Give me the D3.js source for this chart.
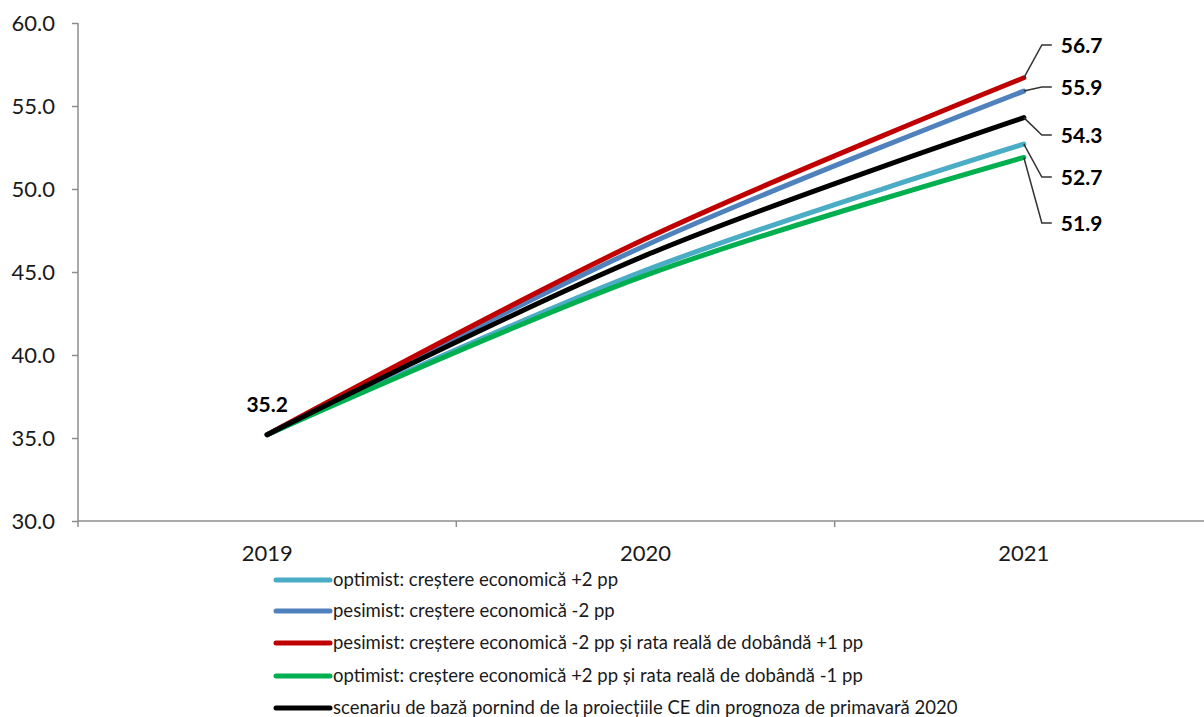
<!DOCTYPE html>
<html>
<head>
<meta charset="utf-8">
<script src="https://cdn.jsdelivr.net/npm/d3@7"></script>
<style>
  html, body { margin: 0; padding: 0; background: #fff; }
  svg { display: block; }
  text { font-family: Lato, "Open Sans", "Noto Sans", sans-serif; }
</style>
</head>
<body>
<svg id="chart" width="1204" height="717"></svg>
<script>
// Years on the category axis
const years = ["2019", "2020", "2021"];

// Scenario names (legend text)
const seriesNames = [
  "optimist: creștere economică +2 pp",
  "pesimist: creștere economică -2 pp",
  "pesimist: creștere economică -2 pp și rata reală de dobândă +1 pp",
  "optimist: creștere economică +2 pp și rata reală de dobândă -1 pp",
  "scenariu de bază pornind de la proiecțiile CE din prognoza de primavară 2020"
];

// Debt ratio per scenario, one value per year
const optimistValues      = [35.2, 45.1, 52.7];
const pesimistValues      = [35.2, 46.6, 55.9];
const pesimistRateValues  = [35.2, 47.0, 56.7];
const optimistRateValues  = [35.2, 44.8, 51.9];
const baseValues          = [35.2, 46.0, 54.3];

const seriesValues = [optimistValues, pesimistValues, pesimistRateValues, optimistRateValues, baseValues];
const seriesColors = ["#4bacc6", "#4f81bd", "#c00000", "#00b050", "#000000"];

// Y axis tick values
const yTicks = [30, 35, 40, 45, 50, 55, 60];

const svg = d3.select("#chart");

const plot = { left: 78, right: 1213, top: 23, bottom: 521 };

const x = d3.scaleBand().domain(years).range([plot.left, plot.right]);
const cx = d => x(d) + x.bandwidth() / 2;
const y = d3.scaleLinear().domain([30, 60]).range([plot.bottom, plot.top]);

const axisColor = "#8c8c8c";

// Y axis
const yAxis = svg.append("g")
  .attr("transform", `translate(${plot.left},0)`)
  .call(d3.axisLeft(y).tickValues(yTicks).tickFormat(d3.format(".1f")).tickSize(6).tickPadding(17));
yAxis.select(".domain").remove();
yAxis.selectAll(".tick line").attr("stroke", axisColor).attr("stroke-width", 1.5);
yAxis.selectAll(".tick text")
  .attr("fill", "#1a1a1a")
  .style("font-size", "22px")
  .style("font-family", "Lato, sans-serif");
svg.append("line")
  .attr("x1", plot.left).attr("x2", plot.left)
  .attr("y1", y(60)).attr("y2", plot.bottom + 6)
  .attr("stroke", axisColor).attr("stroke-width", 1.5);

// X axis
svg.append("line")
  .attr("x1", plot.left).attr("x2", 1204)
  .attr("y1", plot.bottom).attr("y2", plot.bottom)
  .attr("stroke", axisColor).attr("stroke-width", 1.5);
const boundaries = years.slice(1).map(d => x(d));
svg.selectAll(".xtick").data(boundaries).enter().append("line")
  .attr("class", "xtick")
  .attr("x1", d => d).attr("x2", d => d)
  .attr("y1", plot.bottom).attr("y2", plot.bottom + 6)
  .attr("stroke", axisColor).attr("stroke-width", 1.5);
svg.selectAll(".xlabel").data(years).enter().append("text")
  .attr("class", "xlabel")
  .attr("x", d => cx(d))
  .attr("y", 561)
  .attr("text-anchor", "middle")
  .attr("fill", "#1a1a1a")
  .style("font-size", "22px")
  .text(d => d);

// Scenario lines
const line = d3.line()
  .x((d, i) => cx(years[i]))
  .y(d => y(d))
  .curve(d3.curveCatmullRom.alpha(0.5));

svg.selectAll(".series").data(seriesValues).enter().append("path")
  .attr("class", "series")
  .attr("d", d => line(d))
  .attr("fill", "none")
  .attr("stroke", (d, i) => seriesColors[i])
  .attr("stroke-width", 5)
  .attr("stroke-linecap", "round");

// Starting value label
svg.append("text")
  .attr("x", cx(years[0]))
  .attr("y", y(baseValues[0]) - 23)
  .attr("text-anchor", "middle")
  .attr("fill", "#000")
  .style("font-size", "21px")
  .style("font-weight", "bold")
  .text(d3.format(".1f")(baseValues[0]));

// End labels with leader lines (label baseline y per series, in draw order)
const endLabelY = [185, 95, 53, 231, 143];
const last = years.length - 1;
const ex = cx(years[last]);
seriesValues.forEach((vals, i) => {
  const py = y(vals[last]);
  const ly = endLabelY[i] - 8;
  svg.append("path")
    .attr("d", `M${ex},${py}L${ex + 18},${ly}L${ex + 28},${ly}`)
    .attr("fill", "none")
    .attr("stroke", "#333")
    .attr("stroke-width", 1.5);
  svg.append("text")
    .attr("x", ex + 37)
    .attr("y", endLabelY[i])
    .attr("fill", "#000")
    .style("font-size", "21px")
    .style("font-weight", "bold")
    .text(d3.format(".1f")(vals[last]));
});

// Legend
const legendRows = [580, 611, 643, 676, 708];
const legend = svg.append("g");
seriesNames.forEach((name, i) => {
  const g = legend.append("g").attr("transform", `translate(0,${legendRows[i]})`);
  g.append("line")
    .attr("x1", 276).attr("x2", 330)
    .attr("y1", 0).attr("y2", 0)
    .attr("stroke", seriesColors[i])
    .attr("stroke-width", 5)
    .attr("stroke-linecap", "round");
  g.append("text")
    .attr("x", 333)
    .attr("y", 6)
    .attr("fill", "#1a1a1a")
    .style("font-size", "18.5px")
    .text(name);
});
</script>
</body>
</html>
